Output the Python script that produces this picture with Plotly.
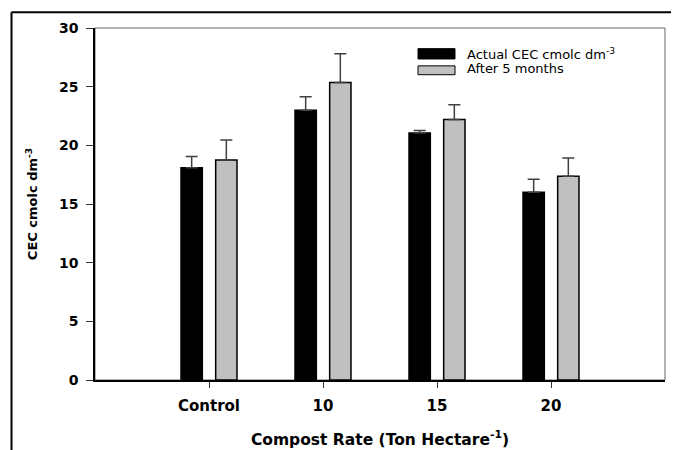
import plotly.graph_objects as go

categories = ["Control", "10", "15", "20"]
actual_cec = [18.1, 23.0, 21.05, 16.0]
actual_err = [0.95, 1.15, 0.22, 1.1]
after5 = [18.75, 25.35, 22.2, 17.37]
after5_err = [1.7, 2.45, 1.25, 1.55]
series_names = ["Actual CEC cmolc dm<sup>-3</sup>", "After 5 months"]
series_colors = ["#000000", "#c0c0c0"]
y_ticks = [0, 5, 10, 15, 20, 25, 30]

FONT = "DejaVu Sans"
bar_w = 0.187
shift = 0.152

# page body adds an 8px offset; target pixel positions are compensated
OFF = 8
PL, PR, PT, PB = 95 - OFF, 665 - OFF, 26 - OFF, 384 - OFF
PW, PH = PR - PL, PB - PT


def px(x):
    return (x - OFF - PL) / PW


def py(y):
    return (PB - (y - OFF)) / PH


fig = go.Figure()
for vals, errs, col, off in [
    (actual_cec, actual_err, series_colors[0], -shift - bar_w / 2),
    (after5, after5_err, series_colors[1], shift - bar_w / 2),
]:
    fig.add_bar(
        x=categories, y=vals, width=bar_w, offset=off,
        marker=dict(color=col, line=dict(color="black", width=1.5)),
        error_y=dict(type="data", array=errs, arrayminus=[0] * len(errs),
                     symmetric=False, color="#404040", thickness=1.5, width=6),
        showlegend=False,
    )

# manual legend (wide rectangles like the original)
rows = [(47, 57.5, 52), (64.5, 73.5, 67)]
shapes = []
annotations = []
for (top, bot, yt), name, col in zip(rows, series_names, series_colors):
    shapes.append(dict(type="rect", xref="paper", yref="paper",
                       x0=px(418), x1=px(455), y0=py(bot), y1=py(top),
                       fillcolor=col, line=dict(color="black", width=1)))
    annotations.append(dict(xref="paper", yref="paper", x=px(465), y=py(yt),
                            text=name, showarrow=False, xanchor="left", yanchor="middle",
                            font=dict(family=FONT, size=13, color="black")))

# grey frame of plot area
shapes.append(dict(type="rect", xref="paper", yref="paper", x0=0, x1=1, y0=0, y1=1,
                   line=dict(color="#666666", width=1), layer="below"))
# outer black border (open at the bottom)
bx0, bx1, by_top, by_bot = px(11.5), px(677.5), py(10), py(470)
for x0, y0, x1, y1 in [(bx0, by_top, bx1, by_top), (bx0, by_top, bx0, by_bot),
                       (bx1, by_top, bx1, by_bot)]:
    shapes.append(dict(type="line", xref="paper", yref="paper",
                       x0=x0, y0=y0, x1=x1, y1=y1,
                       line=dict(color="black", width=2)))

fig.update_layout(
    width=679, height=450,
    margin=dict(l=PL, r=679 - PR, t=PT, b=450 - PB),
    paper_bgcolor="white", plot_bgcolor="white",
    barmode="overlay",
    shapes=shapes, annotations=annotations,
    font=dict(family=FONT, color="black"),
    xaxis=dict(
        type="category", range=[-1, 4],
        showline=True, linecolor="black", linewidth=1.5,
        ticks="outside", ticklen=6, tickcolor="#333333", tickwidth=1,
        ticklabelstandoff=5,
        tickfont=dict(family=FONT, size=15, weight="bold", color="black"),
        showgrid=False, zeroline=False,
        title=dict(text="Compost Rate (Ton Hectare<sup>-1</sup>)",
                   font=dict(family=FONT, size=15.5, weight="bold", color="black"),
                   standoff=20),
    ),
    yaxis=dict(
        range=[0, 30], tickvals=y_ticks,
        showline=True, linecolor="black", linewidth=1.5,
        ticks="outside", ticklen=7, tickcolor="#333333", tickwidth=1,
        ticklabelstandoff=5,
        tickfont=dict(family=FONT, size=14, weight="bold", color="black"),
        showgrid=False, zeroline=False,
        title=dict(text="CEC cmolc dm<sup>-3</sup>",
                   font=dict(family=FONT, size=13, weight="bold", color="black"),
                   standoff=18),
    ),
)

fig.write_html("out.html", config={"displayModeBar": False})
